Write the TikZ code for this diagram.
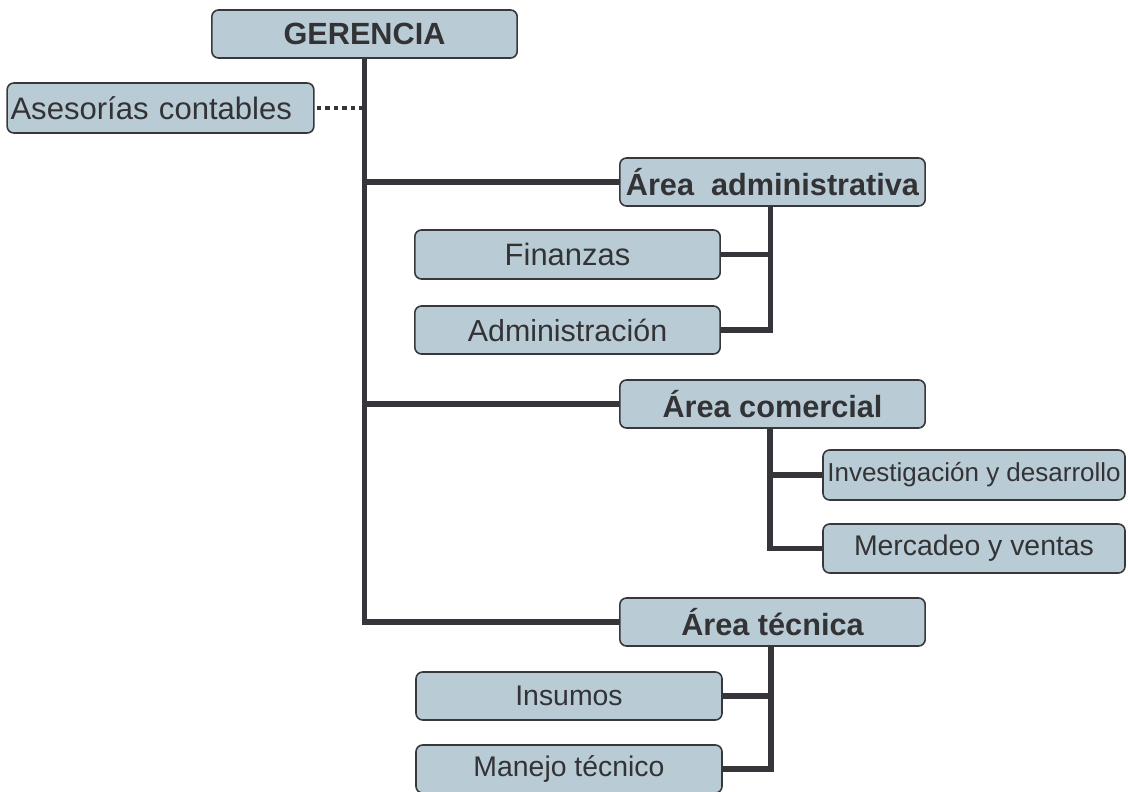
\documentclass[tikz,border=0pt]{standalone}
\usepackage{fontspec}
\setmainfont{Liberation Sans}
\definecolor{boxfill}{HTML}{B9CCD6}
\definecolor{boxline}{HTML}{38383C}
\definecolor{txt}{HTML}{333336}
\definecolor{conncol}{HTML}{35353A}
\begin{document}
\begin{tikzpicture}[x=0.75pt,y=-0.75pt,
  box/.style={draw=boxline,line width=1.2pt,fill=boxfill,rounded corners=5pt,
    minimum width=229pt,minimum height=36pt,inner sep=0pt,text=txt,
    font=\fontsize{22.8}{26}\selectfont},
  bbox/.style={box,font=\fontsize{23}{26}\selectfont\bfseries},
  mbox/.style={box,font=\fontsize{21.3}{24}\selectfont},
  sbox/.style={box,font=\fontsize{19.5}{22}\selectfont,minimum width=226.5pt,minimum height=37.5pt},
  conn/.style={draw=conncol,line width=4.1pt},
  dotline/.style={draw=conncol,line width=3.6pt,dash pattern=on 3.4pt off 3pt}]
\useasboundingbox (0,0) rectangle (1128,792);
\node[bbox] (ger) at (364.5,34) {GERENCIA};
\node[box,minimum width=230pt,minimum height=37.5pt,text width=225pt,align=left,
  font=\fontsize{23.3}{26}\selectfont] (ase) at (160.5,108) {Asesorías contables};
\node[bbox] (adm) at (772.5,182) {Área~~administrativa};
\node[box,minimum height=36.75pt,font=\fontsize{23.2}{26}\selectfont] (fin) at (567.5,254.5) {Finanzas};
\node[box] (admin) at (567.5,330) {Administración};
\node[bbox] (com) at (772.5,404) {Área comercial};
\node[sbox] (inv) at (974,475) {Investigación y desarrollo};
\node[mbox,minimum width=226.5pt,minimum height=36.75pt] (mer) at (974,548.5) {Mercadeo y ventas};
\node[bbox] (tec) at (772.5,622) {Área técnica};
\node[mbox,minimum width=229.5pt] (ins) at (569,696) {Insumos};
\node[mbox,minimum width=229.5pt] (man) at (569,769) {Manejo técnico};
% trunk
\draw[conn] (ger.south) |- (tec.west);
\draw[conn] (ger.south |- adm.west) -- (adm.west);
\draw[conn] (ger.south |- com.west) -- (com.west);
\draw[dotline] ([xshift=1.5pt]ase.east) -- (ase.east -| ger.south);
% subtrees
\draw[conn] ([xshift=-1.5pt]adm.south) |- (fin.east);
\draw[conn] ([xshift=-1.5pt]adm.south) |- (admin.east);
\draw[conn] ([xshift=-2pt]com.south) |- (inv.west);
\draw[conn] ([xshift=-2pt]com.south) |- (mer.west);
\draw[conn] ([xshift=-1pt]tec.south) |- (ins.east);
\draw[conn] ([xshift=-1pt]tec.south) |- (man.east);
\end{tikzpicture}
\end{document}
